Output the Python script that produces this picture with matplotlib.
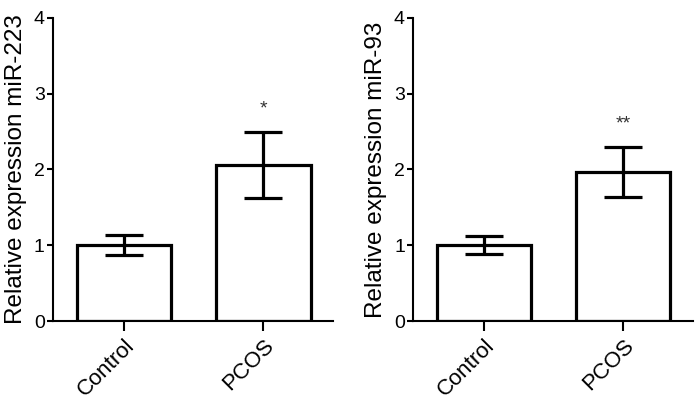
import matplotlib
matplotlib.use("Agg")
import matplotlib.pyplot as plt

plt.rcParams['font.family'] = ['Liberation Sans', 'DejaVu Sans']

groups = ["Control", "PCOS"]

# miR-223
mir223_mean = [1.00, 2.06]
mir223_err = [0.13, 0.44]
mir223_star = "*"

# miR-93
mir93_mean = [1.00, 1.97]
mir93_err = [0.12, 0.33]
mir93_star = "**"

panels = [
    ("Relative expression miR-223", mir223_mean, mir223_err, mir223_star, [0.076, 0.207, 0.402, 0.749]),
    ("Relative expression miR-93", mir93_mean, mir93_err, mir93_star, [0.593, 0.207, 0.401, 0.749]),
]

fig = plt.figure(figsize=(6.97, 4.05), dpi=100)

for label, mean, err, star, rect in panels:
    ax = fig.add_axes(rect)
    x = list(range(len(groups)))
    ax.bar(x, mean, width=0.675, color="white", edgecolor="black", linewidth=2.3, zorder=2)
    ax.errorbar(x, mean, yerr=err, fmt="none", ecolor="black", elinewidth=2.3,
                capsize=14, capthick=2.3, zorder=3)
    top = mean[1] + err[1]
    ax.text(1, top + 0.3, star, ha="center", va="center", fontsize=14, color="#333333")
    ax.set_xlim(-0.51, 1.5)
    ax.set_ylim(0, 4)
    ax.set_yticks([0, 1, 2, 3, 4])
    ax.set_xticks(x)
    ax.set_xticklabels(groups, rotation=45, ha="right", va="top", rotation_mode="anchor", fontsize=16)
    ax.tick_params(axis="y", labelsize=14, width=1.5, length=4, pad=2)
    ax.tick_params(axis="x", width=1.5, length=7, pad=3)
    ax.set_ylabel(label, fontsize=17.5, labelpad=5)
    for s in ["top", "right"]:
        ax.spines[s].set_visible(False)
    for s in ["left", "bottom"]:
        ax.spines[s].set_linewidth(1.5)

fig.savefig("out.png", dpi=100)
